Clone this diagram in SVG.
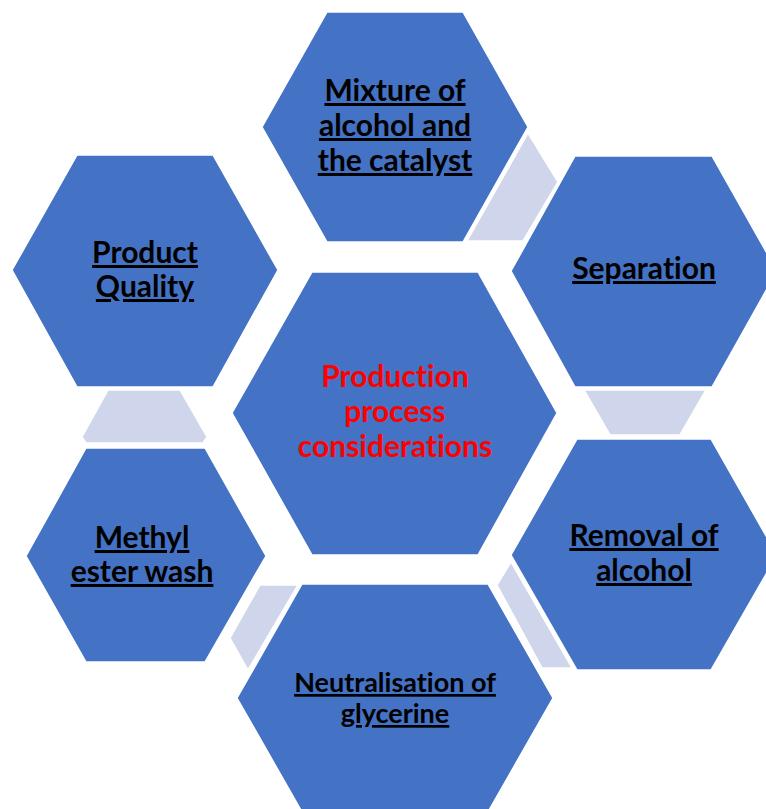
<svg xmlns="http://www.w3.org/2000/svg" width="766" height="809" viewBox="0 0 766 809">
  <style>
    .hex { fill: #4472C4; stroke: #ffffff; stroke-width: 1.5; }
    .link { fill: #CFD5EA; stroke: #ffffff; stroke-width: 1.5; }
    text { font-family: Lato, "Liberation Sans", sans-serif; font-weight: bold; font-size: 30px; text-anchor: middle; font-variant-ligatures: none; }
    .lbl { fill: #000000; text-decoration: underline; }
    .small { font-size: 27px; }
    .hub { fill: #FF0000; }
  </style>
  <rect width="766" height="809" fill="#ffffff"/>

  <!-- light bands linking neighbouring hexagons -->
  <g id="connectors">
    <polygon class="link" points="528,133 558,182 523,241 467,241"/>
    <polygon class="link" points="584,390 706,390 680,435 610,435"/>
    <polygon class="link" points="497,585 511,562 572,668 542,668"/>
    <polygon class="link" points="260,585 298,585 248,670 230,638"/>
    <polygon class="link" points="108,390 180,390 207,437 203,443 86,443 82,437"/>
  </g>

  <g id="hub">
    <polygon class="hex" points="312,272 478,272 557,413 478,555 312,555 232,413"/>
    <text class="hub" x="395" y="387">Production</text>
    <text class="hub" x="395" y="422">process</text>
    <text class="hub" x="395" y="457">considerations</text>
  </g>

  <g id="mixture">
    <polygon class="hex" points="327,12 463,12 528,127 463,242 327,242 262,127"/>
    <text class="lbl" x="395" y="101">Mixture of</text>
    <text class="lbl" x="395" y="136">alcohol and</text>
    <text class="lbl" x="395" y="171">the catalyst</text>
  </g>

  <g id="separation">
    <polygon class="hex" points="575,156 712,156 777,271 712,387 575,387 511,271"/>
    <text class="lbl" x="644" y="279">Separation</text>
  </g>

  <g id="removal">
    <polygon class="hex" points="577,439 711,439 777,555 711,670 577,670 511,555"/>
    <text class="lbl" x="644" y="546">Removal of</text>
    <text class="lbl" x="644" y="581">alcohol</text>
  </g>

  <g id="neutralisation">
    <polygon class="hex" points="302,584 488,584 553,698 488,812 302,812 237,698"/>
    <text class="lbl small" x="395" y="692">Neutralisation of</text>
    <text class="lbl small" x="395" y="723">glycerine</text>
  </g>

  <g id="methyl-wash">
    <polygon class="hex" points="86,448 205,448 266,556 205,662 86,662 26,556"/>
    <text class="lbl" x="142" y="548">Methyl</text>
    <text class="lbl" x="142" y="582">ester wash</text>
  </g>

  <g id="product-quality">
    <polygon class="hex" points="77,155 213,155 278,270 213,387 77,387 12,270"/>
    <text class="lbl" x="145" y="263">Product</text>
    <text class="lbl" x="145" y="297">Quality</text>
  </g>
</svg>
